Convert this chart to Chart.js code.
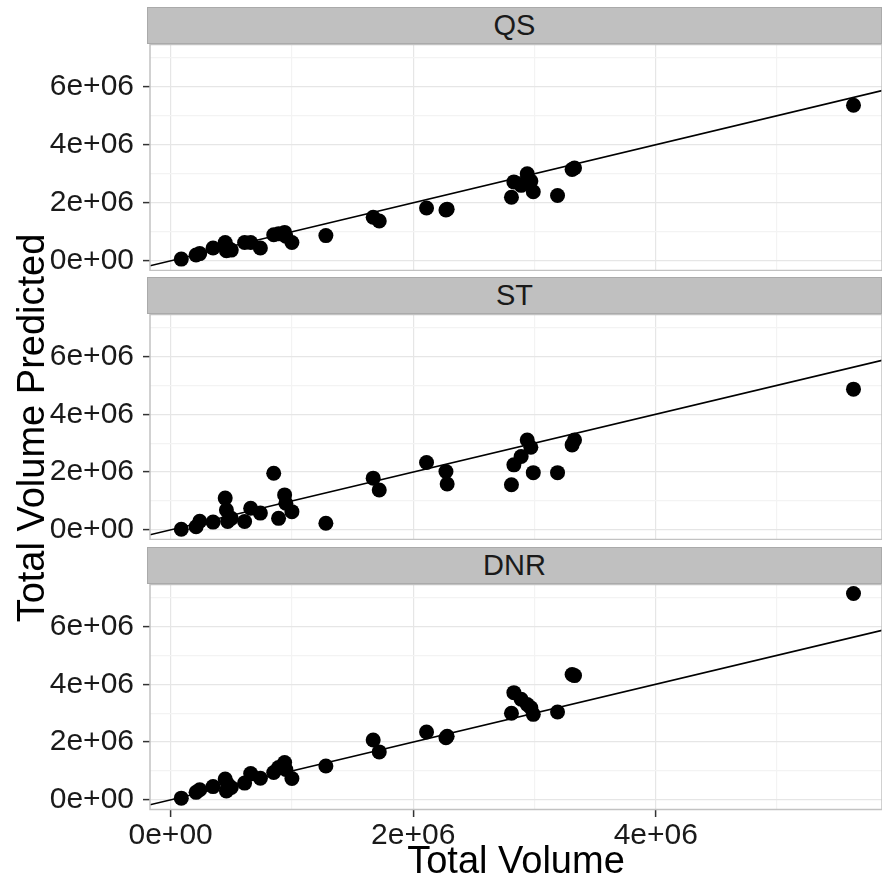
<!DOCTYPE html>
<html>
<head>
<meta charset="utf-8">
<script src="https://cdn.jsdelivr.net/npm/chart.js@4"></script>
<style>
  body { margin: 0; background: #fff; width: 882px; height: 885px; position: relative; overflow: hidden;
         font-family: "Liberation Sans", Arial, sans-serif; }
  .box { position: absolute; left: 0; width: 882px; }
  .strip { position: absolute; left: 147px; width: 735px; background: #c0c0c0; border: 1px solid #aaa;
           box-sizing: border-box; color: #1a1a1a; font-size: 29px; display: flex;
           align-items: center; justify-content: center; }
  #ytitle { position: absolute; left: -219px; top: 405px; width: 500px; height: 46px; line-height: 46px;
            text-align: center; font-size: 38px; color: #000; transform: rotate(-90deg); }
</style>
</head>
<body>
<div class="strip" style="top:7px;height:37px">QS</div>
<div class="strip" style="top:277px;height:37px">ST</div>
<div class="strip" style="top:547px;height:37px">DNR</div>
<div class="box" style="top:44px;height:227px"><canvas id="qs" width="882" height="227"></canvas></div>
<div class="box" style="top:314px;height:226px"><canvas id="st" width="882" height="226"></canvas></div>
<div class="box" style="top:584px;height:301px"><canvas id="dnr" width="882" height="301"></canvas></div>
<div id="ytitle">Total Volume Predicted</div>
<script>
// observed total volume (millions)
const totalVolume = [0.088, 0.21, 0.24, 0.35, 0.45, 0.46, 0.47, 0.50, 0.61, 0.66, 0.74, 0.85, 0.89, 0.94, 0.95, 1.00,
  1.28, 1.67, 1.72, 2.11, 2.27, 2.28, 2.81, 2.83, 2.89, 2.94, 2.97, 2.99, 3.19, 3.31, 3.33, 5.63];
// predicted total volume per method (millions)
const predQS = [0.06, 0.20, 0.25, 0.44, 0.63, 0.35, 0.45, 0.37, 0.63, 0.63, 0.44, 0.90, 0.93, 0.98, 0.85, 0.63,
  0.87, 1.50, 1.37, 1.82, 1.75, 1.78, 2.19, 2.72, 2.60, 3.00, 2.75, 2.38, 2.25, 3.15, 3.20, 5.36];
const predST = [0.02, 0.11, 0.30, 0.27, 1.10, 0.69, 0.29, 0.40, 0.29, 0.75, 0.58, 1.96, 0.40, 1.21, 0.92, 0.63,
  0.23, 1.79, 1.38, 2.33, 2.02, 1.59, 1.56, 2.25, 2.54, 3.11, 2.86, 1.98, 1.98, 2.94, 3.11, 4.87];
const predDNR = [0.06, 0.26, 0.35, 0.46, 0.72, 0.31, 0.55, 0.43, 0.58, 0.91, 0.75, 0.95, 1.12, 1.29, 1.05, 0.74,
  1.17, 2.07, 1.66, 2.35, 2.15, 2.20, 3.00, 3.71, 3.48, 3.30, 3.19, 2.96, 3.04, 4.34, 4.30, 7.14];

const xTicks = [0, 1e6, 2e6, 3e6, 4e6, 5e6];
const yTicks = [0, 1e6, 2e6, 3e6, 4e6, 5e6, 6e6, 7e6];
const xRange = [-0.17e6, 5.865e6];
const yRange = [-0.35e6, 7.47e6];

function sci(v) {
  const [m, e] = v.toExponential(0).split('e');
  return m + 'e' + e[0] + e.slice(1).padStart(2, '0');
}
const isMajor = v => Math.round(v / 1e6) % 2 === 0;

const panelBorder = {
  id: 'panelBorder',
  afterDraw(chart) {
    const a = chart.chartArea, c = chart.ctx;
    c.save();
    c.strokeStyle = '#c2c2c2';
    c.lineWidth = 1.5;
    c.strokeRect(a.left, a.top + 0.5, a.right - a.left, a.bottom - a.top - 1);
    c.restore();
  }
};

function makePanel(id, pred, bottom) {
  const pts = totalVolume.map((x, i) => ({ x: x * 1e6, y: pred[i] * 1e6 }));
  const ref = xRange.map(v => ({ x: v, y: v }));
  new Chart(document.getElementById(id), {
    type: 'scatter',
    data: {
      datasets: [
        { data: pts, backgroundColor: '#000', borderWidth: 0, pointRadius: 7.5, pointHoverRadius: 7.5 },
        { type: 'line', data: ref, borderColor: '#000', borderWidth: 1.6, pointRadius: 0, fill: false }
      ]
    },
    options: {
      responsive: false,
      animation: false,
      events: [],
      layout: { padding: 0, autoPadding: false },
      plugins: { legend: { display: false }, tooltip: { enabled: false } },
      scales: {
        x: {
          type: 'linear', min: xRange[0], max: xRange[1],
          afterBuildTicks: s => { s.ticks = xTicks.map(v => ({ value: v })); },
          afterFit: s => { s.height = bottom ? 75 : 0; s.paddingLeft = 0; s.paddingRight = 0; },
          border: { display: false },
          grid: {
            color: c => isMajor(c.tick.value) ? '#e6e6e6' : '#f3f3f3',
            lineWidth: 1.2,
            drawTicks: bottom, tickLength: 7,
            tickColor: c => isMajor(c.tick.value) ? '#333' : 'rgba(0,0,0,0)', tickWidth: 1.5
          },
          ticks: {
            display: bottom, padding: 1, maxRotation: 0, autoSkip: false,
            color: '#1a1a1a', font: { family: 'Liberation Sans', size: 30 },
            callback: v => isMajor(v) ? sci(v) : ''
          },
          title: {
            display: bottom, text: 'Total Volume', color: '#000', padding: { top: -8, bottom: 0 },
            font: { family: 'Liberation Sans', size: 38 }
          }
        },
        y: {
          type: 'linear', min: yRange[0], max: yRange[1],
          afterBuildTicks: s => { s.ticks = yTicks.map(v => ({ value: v })); },
          afterFit: s => { s.width = 150; s.paddingTop = 0; s.paddingBottom = 0; },
          border: { display: false },
          grid: {
            color: c => isMajor(c.tick.value) ? '#e6e6e6' : '#f3f3f3',
            lineWidth: 1.2,
            tickLength: 7,
            tickColor: c => isMajor(c.tick.value) ? '#333' : 'rgba(0,0,0,0)', tickWidth: 1.5
          },
          ticks: {
            padding: 9, autoSkip: false,
            color: '#1a1a1a', font: { family: 'Liberation Sans', size: 30 },
            callback: v => isMajor(v) ? sci(v) : ''
          }
        }
      }
    },
    plugins: [panelBorder]
  });
}

makePanel('qs', predQS, false);
makePanel('st', predST, false);
makePanel('dnr', predDNR, true);
</script>
</body>
</html>
